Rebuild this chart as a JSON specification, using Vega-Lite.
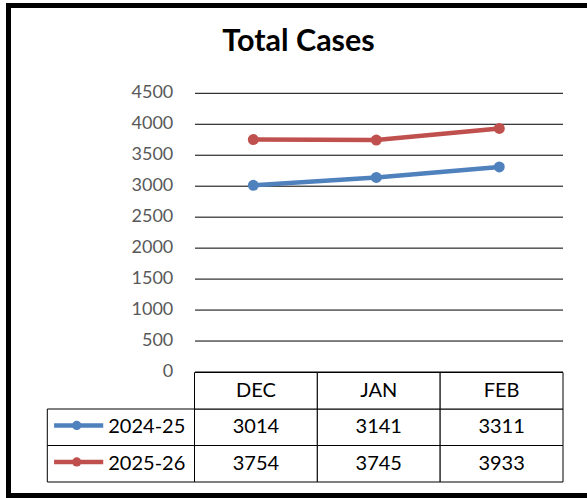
{
  "$schema": "https://vega.github.io/schema/vega-lite/v6.json",
  "width": 582,
  "height": 490,
  "autosize": {"type": "none"},
  "padding": {"left": 8.5, "top": 5.5, "right": -3.5, "bottom": 2.5},
  "background": "white",
  "view": {"stroke": "black", "strokeWidth": 5, "fill": "white"},
  "title": {"text": "Total Cases", "anchor": "middle", "frame": "group", "orient": "top", "baseline": "alphabetic", "offset": -76, "dx": -1, "fontSize": 30.5, "fontWeight": "bold", "font": "Lato", "color": "black"},
  "config": {"font": "Lato"},
  "datasets": {
    "cases": [
      {"month": "DEC", "season": "2024-25", "cases": 3014},
      {"month": "JAN", "season": "2024-25", "cases": 3141},
      {"month": "FEB", "season": "2024-25", "cases": 3311},
      {"month": "DEC", "season": "2025-26", "cases": 3754},
      {"month": "JAN", "season": "2025-26", "cases": 3745},
      {"month": "FEB", "season": "2025-26", "cases": 3933}
    ],
    "months": [{"month": "DEC"}, {"month": "JAN"}, {"month": "FEB"}],
    "seasons": [{"season": "2024-25"}, {"season": "2025-26"}],
    "ticks": [{"v": 0}, {"v": 500}, {"v": 1000}, {"v": 1500}, {"v": 2000}, {"v": 2500}, {"v": 3000}, {"v": 3500}, {"v": 4000}, {"v": 4500}]
  },
  "resolve": {"scale": {"x": "independent", "y": "independent"}},
  "layer": [
    {
      "data": {"name": "ticks"},
      "layer": [
        {
          "mark": {"type": "rule", "color": "black", "strokeWidth": 1},
          "encoding": {
            "y": {"field": "v", "type": "quantitative", "scale": {"domain": [0, 4500], "range": [366.5, 87.8], "nice": false, "zero": false}, "axis": null},
            "x": {"datum": 0, "type": "quantitative", "scale": {"domain": [0, 1], "range": [186.5, 554.5], "nice": false, "zero": false}, "axis": null},
            "x2": {"datum": 1}
          }
        },
        {
          "mark": {"type": "text", "align": "right", "baseline": "middle", "dx": -21.7, "fontSize": 18, "color": "#595959"},
          "encoding": {
            "y": {"field": "v", "type": "quantitative", "scale": {"domain": [0, 4500], "range": [366.5, 87.8], "nice": false, "zero": false}, "axis": null},
            "x": {"datum": 0, "type": "quantitative", "scale": {"domain": [0, 1], "range": [186.5, 554.5], "nice": false, "zero": false}, "axis": null},
            "text": {"field": "v", "type": "quantitative", "format": "d"}
          }
        }
      ]
    },
    {
      "layer": [
        {
          "data": {"name": "cases"},
          "mark": {"type": "rect", "fill": "white", "stroke": "black", "strokeWidth": 1},
          "encoding": {
            "x": {"field": "month", "type": "nominal", "scale": {"type": "band", "domain": ["DEC", "JAN", "FEB"], "range": [186, 554.5], "paddingInner": 0, "paddingOuter": 0}, "axis": null},
            "y": {"field": "season", "type": "nominal", "scale": {"type": "band", "domain": ["header", "2024-25", "2025-26"], "range": [367, 476.5], "paddingInner": 0, "paddingOuter": 0}, "axis": null}
          }
        },
        {
          "data": {"name": "cases"},
          "mark": {"type": "text", "fontSize": 20, "color": "black", "baseline": "middle", "align": "center"},
          "encoding": {
            "x": {"field": "month", "type": "nominal", "bandPosition": 0.5, "scale": {"type": "band", "domain": ["DEC", "JAN", "FEB"], "range": [186, 554.5], "paddingInner": 0, "paddingOuter": 0}, "axis": null},
            "y": {"field": "season", "type": "nominal", "bandPosition": 0.5, "scale": {"type": "band", "domain": ["header", "2024-25", "2025-26"], "range": [367, 476.5], "paddingInner": 0, "paddingOuter": 0}, "axis": null},
            "text": {"field": "cases", "type": "quantitative", "format": "d"}
          }
        },
        {
          "data": {"name": "months"},
          "mark": {"type": "rect", "fill": "white", "stroke": "black", "strokeWidth": 1},
          "encoding": {
            "x": {"field": "month", "type": "nominal", "scale": {"type": "band", "domain": ["DEC", "JAN", "FEB"], "range": [186, 554.5], "paddingInner": 0, "paddingOuter": 0}, "axis": null},
            "y": {"datum": "header", "type": "nominal", "scale": {"type": "band", "domain": ["header", "2024-25", "2025-26"], "range": [367, 476.5], "paddingInner": 0, "paddingOuter": 0}, "axis": null}
          }
        },
        {
          "data": {"name": "months"},
          "mark": {"type": "text", "fontSize": 20, "color": "black", "baseline": "middle", "align": "center"},
          "encoding": {
            "x": {"field": "month", "type": "nominal", "bandPosition": 0.5, "scale": {"type": "band", "domain": ["DEC", "JAN", "FEB"], "range": [186, 554.5], "paddingInner": 0, "paddingOuter": 0}, "axis": null},
            "y": {"datum": "header", "type": "nominal", "bandPosition": 0.5, "scale": {"type": "band", "domain": ["header", "2024-25", "2025-26"], "range": [367, 476.5], "paddingInner": 0, "paddingOuter": 0}, "axis": null},
            "text": {"field": "month", "type": "nominal"}
          }
        }
      ]
    },
    {
      "data": {"name": "seasons"},
      "layer": [
        {
          "mark": {"type": "rect", "fill": "white", "stroke": "black", "strokeWidth": 1},
          "encoding": {
            "x": {"datum": 0, "type": "quantitative", "scale": {"domain": [0, 1], "range": [38.8, 186], "nice": false, "zero": false}, "axis": null},
            "x2": {"datum": 1},
            "y": {"field": "season", "type": "nominal", "scale": {"type": "band", "domain": ["header", "2024-25", "2025-26"], "range": [367, 476.5], "paddingInner": 0, "paddingOuter": 0}, "axis": null}
          }
        },
        {
          "mark": {"type": "rule", "strokeWidth": 4.5},
          "encoding": {
            "x": {"datum": 0.046, "type": "quantitative", "scale": {"domain": [0, 1], "range": [38.8, 186], "nice": false, "zero": false}, "axis": null},
            "x2": {"datum": 0.38},
            "y": {"field": "season", "type": "nominal", "bandPosition": 0.45, "scale": {"type": "band", "domain": ["header", "2024-25", "2025-26"], "range": [367, 476.5], "paddingInner": 0, "paddingOuter": 0}, "axis": null},
            "color": {"field": "season", "type": "nominal", "scale": {"domain": ["2024-25", "2025-26"], "range": ["#4F81BD", "#C0504D"]}, "legend": null}
          }
        },
        {
          "mark": {"type": "point", "filled": true, "size": 85, "opacity": 1},
          "encoding": {
            "x": {"datum": 0.2, "type": "quantitative", "scale": {"domain": [0, 1], "range": [38.8, 186], "nice": false, "zero": false}, "axis": null},
            "y": {"field": "season", "type": "nominal", "bandPosition": 0.45, "scale": {"type": "band", "domain": ["header", "2024-25", "2025-26"], "range": [367, 476.5], "paddingInner": 0, "paddingOuter": 0}, "axis": null},
            "color": {"field": "season", "type": "nominal", "scale": {"domain": ["2024-25", "2025-26"], "range": ["#4F81BD", "#C0504D"]}, "legend": null}
          }
        },
        {
          "mark": {"type": "text", "align": "left", "baseline": "middle", "fontSize": 20, "color": "black"},
          "encoding": {
            "x": {"datum": 0.414, "type": "quantitative", "scale": {"domain": [0, 1], "range": [38.8, 186], "nice": false, "zero": false}, "axis": null},
            "y": {"field": "season", "type": "nominal", "bandPosition": 0.5, "scale": {"type": "band", "domain": ["header", "2024-25", "2025-26"], "range": [367, 476.5], "paddingInner": 0, "paddingOuter": 0}, "axis": null},
            "text": {"field": "season", "type": "nominal"}
          }
        }
      ]
    },
    {
      "data": {"name": "cases"},
      "encoding": {
        "x": {"field": "month", "type": "nominal", "sort": ["DEC", "JAN", "FEB"], "scale": {"type": "point", "domain": ["DEC", "JAN", "FEB"], "range": [183.3, 552.3], "padding": 0.5}, "axis": null},
        "y": {"field": "cases", "type": "quantitative", "scale": {"domain": [0, 4500], "range": [366.5, 87.8], "nice": false, "zero": false}, "axis": null},
        "color": {"field": "season", "type": "nominal", "scale": {"domain": ["2024-25", "2025-26"], "range": ["#4F81BD", "#C0504D"]}, "legend": null}
      },
      "layer": [
        {"mark": {"type": "line", "strokeWidth": 4.5}},
        {"mark": {"type": "point", "filled": true, "size": 120, "opacity": 1}}
      ]
    }
  ]
}
